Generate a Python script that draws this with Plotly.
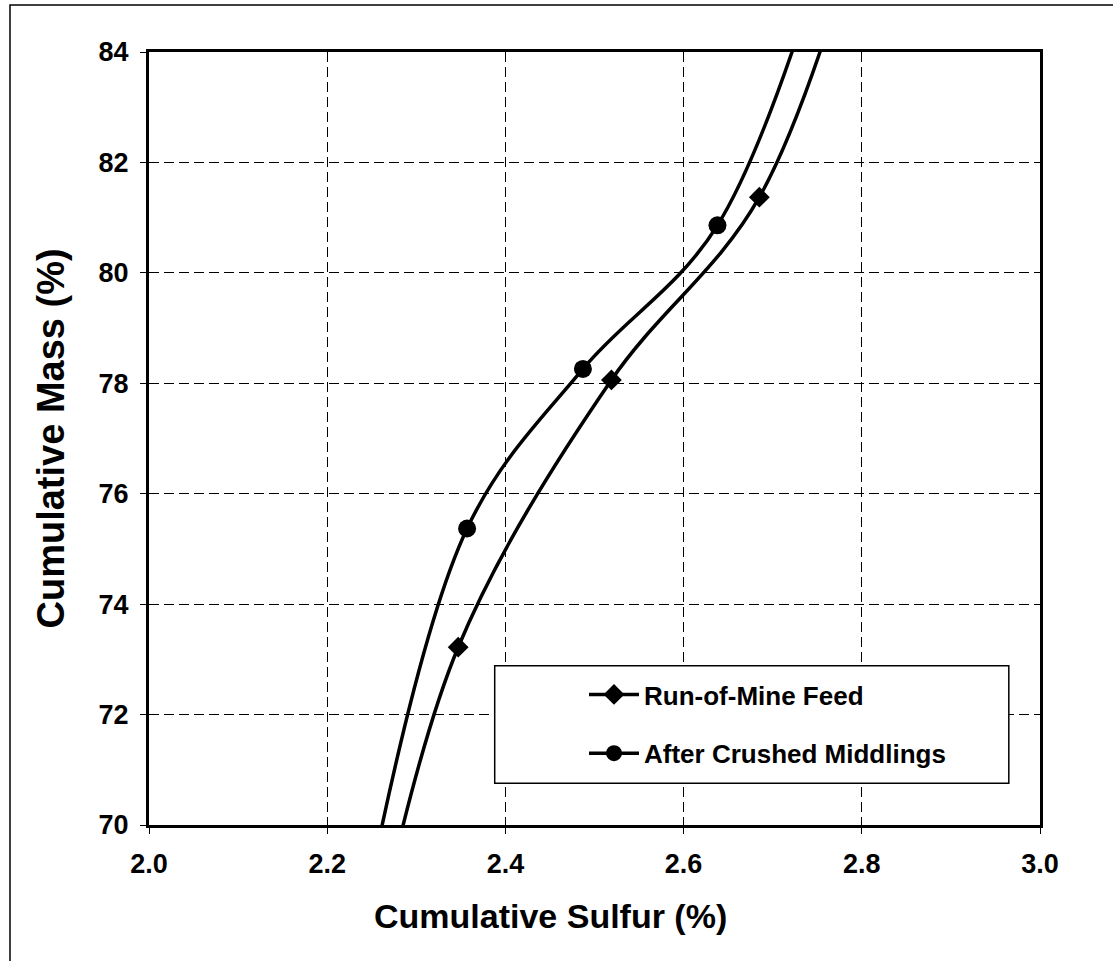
import plotly.graph_objects as go

# Cumulative sulfur (%) vs cumulative mass (%) for the two washability curves.
# The first and last entries of each series lie beyond the plotted window and
# only steer the smoothed line through the visible points.
rom_sulfur = [2.250, 2.347, 2.519, 2.685, 2.810]
rom_mass = [67.5, 73.22, 78.06, 81.37, 87.0]

acm_sulfur = [2.234, 2.357, 2.487, 2.638, 2.780]
acm_mass = [67.8, 75.37, 78.26, 80.86, 87.0]

series_names = ["Run-of-Mine Feed", "After Crushed Middlings"]

x_ticks = [2.0, 2.2, 2.4, 2.6, 2.8, 3.0]
x_tick_text = ["2.0", "2.2", "2.4", "2.6", "2.8", "3.0"]
y_ticks = [70, 72, 74, 76, 78, 80, 82, 84]

FONT = "Liberation Sans, Arial, sans-serif"

fig = go.Figure()

fig.add_trace(go.Scatter(
    x=rom_sulfur, y=rom_mass, name=series_names[0],
    mode="lines+markers", line=dict(color="black", width=3.5, shape="spline", smoothing=1.0),
    marker=dict(symbol="diamond", size=16, color="black"),
    legendgroup="a", cliponaxis=True,
))
fig.add_trace(go.Scatter(
    x=acm_sulfur, y=acm_mass, name=series_names[1],
    mode="lines+markers", line=dict(color="black", width=3.5, shape="spline", smoothing=1.0),
    marker=dict(symbol="circle", size=18, color="black"),
    legendgroup="b", cliponaxis=True,
))

axis_common = dict(
    showline=True, linewidth=3, linecolor="black", mirror=True,
    showgrid=True, gridcolor="black", gridwidth=1, griddash="10px,5px",
    ticks="outside", ticklen=6, tickwidth=1, tickcolor="black",
    zeroline=False,
    tickfont=dict(family=FONT, size=27, color="black", weight="bold"),
)

fig.update_xaxes(range=[2.0, 3.0], tickvals=x_ticks, ticktext=x_tick_text,
                 ticklabelstandoff=7, **axis_common)
fig.update_yaxes(range=[70, 84], tickvals=y_ticks, ticklabelstandoff=6, **axis_common)

# Axis titles
fig.add_annotation(text="<b>Cumulative Sulfur (%)</b>", xref="paper", yref="paper",
                   x=(550 - 149) / 891, y=(825 - 916) / 773, xanchor="center", yanchor="middle",
                   showarrow=False, font=dict(family=FONT, size=34, color="black"))
fig.add_annotation(text="<b>Cumulative Mass (%)</b>", xref="paper", yref="paper",
                   x=(50 - 149) / 891, y=0.5, xanchor="center", yanchor="middle",
                   textangle=-90, showarrow=False, font=dict(family=FONT, size=38, color="black"))

# Legend frame
fig.add_shape(type="rect", xref="paper", yref="paper",
              x0=0.388, x1=0.965, y0=0.054, y1=0.206,
              line=dict(color="black", width=1.5), fillcolor="white", layer="above")

# Outer figure frame (left and top edges visible)
fig.add_shape(type="rect", xref="paper", yref="paper",
              x0=(10 - 149) / 891, x1=1.3, y0=-0.4, y1=(825 - 5) / 773,
              line=dict(color="black", width=1.5), fillcolor="rgba(0,0,0,0)", layer="below")

fig.update_layout(
    width=1113, height=961,
    margin=dict(l=149, r=73, t=52, b=136),
    paper_bgcolor="white", plot_bgcolor="white",
    showlegend=True,
    legend=dict(
        x=(584 - 149) / 891, y=(825 - 671) / 773, xanchor="left", yanchor="top",
        bgcolor="rgba(0,0,0,0)", borderwidth=0,
        font=dict(family=FONT, size=26, color="black", weight="bold"),
        traceorder="grouped", tracegroupgap=22, itemwidth=50,
    ),
)

fig.write_html("out.html")
